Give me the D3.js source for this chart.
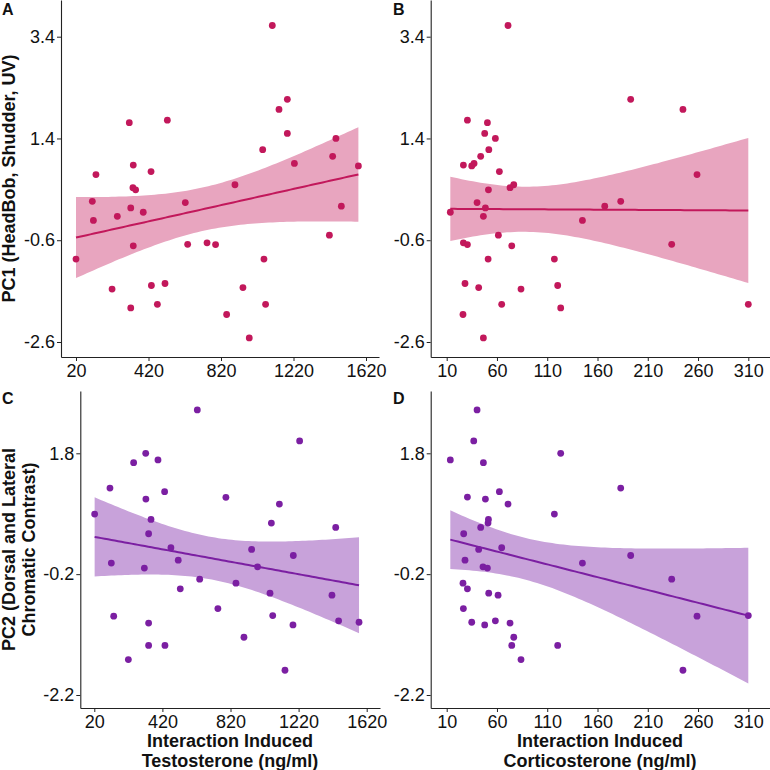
<!DOCTYPE html>
<html>
<head>
<meta charset="utf-8">
<script src="https://d3js.org/d3.v7.min.js"></script>
<style>
  body{margin:0;background:#fff;}
  text{font-family:"Liberation Sans",Arial,sans-serif;fill:#111;}
  .tick line, .domain{stroke:#222;}
</style>
</head>
<body>
<div class="container"></div>
<script>
// PC1 vs testosterone (panel A)
var testoA = [20,110,116,130,219,248,314,322,322,336,334,349,336,391,434,436,469,511,524,623,
              636,743,790,851,897,941,976,1050,1057,1066,1103,1140,1186,1186,1225,1418,1436,1454,1484,1578];
var pc1A = [-0.97,0.165,-0.21,0.69,-1.56,-0.13,1.71,0.034,-1.93,0.877,0.433,0.39,-0.71,-0.05,0.75,-1.49,-1.86,-1.45,1.76,0.14,
            -0.68,-0.65,-0.685,-2.06,0.49,-1.53,-2.52,1.18,-0.97,-1.86,3.62,1.97,2.17,1.50,0.91,-0.50,1.05,1.40,0.07,0.86];

// PC1 vs corticosterone (panel B)
var corticoB = [13.6,26.6,26.6,28.2,26.2,30.6,30.6,34.9,37.2,40.2,41.8,43.8,46.5,46.5,47.8,48.5,50.5,51.2,51.5,51.9,
                58.4,61.4,62.4,64.7,71.0,73.0,74.7,76.7,83.9,117.1,120.4,123.4,145,167.2,183.1,193,233.8,245,259,310];
var pc1B = [-0.05,0.877,-0.65,-1.45,-2.06,1.76,-0.685,0.86,0.91,0.14,-1.53,1.05,-2.52,-0.13,1.50,0.034,1.71,-0.97,0.39,1.18,
            1.40,-0.50,0.75,-1.86,3.62,0.433,-0.71,0.49,-1.56,-0.97,-1.49,-1.93,-0.21,0.07,0.165,2.17,-0.68,1.97,0.69,-1.86];

// PC2 vs testosterone (panel C)
var testoC = [22,112,120,134,220,251,314,322,323,339,339,339,353,394,433,435,470,513,525,625,
              639,746,793,852,899,944,979,1052,1060,1068,1107,1140,1187,1189,1226,1416,1438,1455,1575];
var pc2C = [0.795,1.225,-0.017,-0.895,-1.614,1.645,-0.10,1.80,1.043,-1.01,-1.38,0.469,0.706,1.69,1.165,-1.38,0.237,0.032,-0.443,2.518,
            -0.283,-0.769,1.071,-0.349,-1.244,0.209,-0.078,-0.515,0.645,-0.885,0.96,-1.79,-1.04,0.109,2.004,-0.548,0.573,-0.973,-0.996];

// PC2 vs corticosterone (panel D)
var corticoD = [13.6,26.9,28.2,26.2,26.6,30.6,30.6,34.9,36.9,40.2,41.8,43.8,46.1,46.5,47.8,48.5,50.5,51.1,51.5,51.8,
                58.4,61.1,62.4,64.7,71,73,74.7,76.7,83.9,117.1,120.4,123.4,145,183.1,193,233.8,245,259,310];
var pc2D = [1.69,0.469,0.032,-0.349,-0.769,1.076,-0.443,-0.996,2.004,2.518,0.209,0.573,-0.078,1.645,-1.04,1.043,-0.10,0.645,0.706,-0.515,
            -0.973,-0.548,1.165,0.237,0.96,-1.01,-1.38,-1.244,-1.614,0.795,-1.38,1.80,-0.017,1.225,0.109,-0.283,-1.79,-0.895,-0.885];

var testoTicks = [20,420,820,1220,1620];
var corticoTicks = [10,60,110,160,210,260,310];
var pc1Ticks = [-2.6,-0.6,1.4,3.4];
var pc2Ticks = [-2.2,-0.2,1.8];

var pink = {pt:"#C2185B", band:"#E8A5BF"};
var purple = {pt:"#7B1FA2", band:"#C8A2DA"};

var W = 770, H = 770;
var svg = d3.select(".container").append("svg").attr("width",W).attr("height",H);

// linear model with 95% confidence band, like geom_smooth(method = "lm")
function fitLm(xs, ys){
  var n = xs.length, mx = d3.mean(xs), my = d3.mean(ys);
  var sxx = d3.sum(xs, function(x){return (x-mx)*(x-mx);});
  var sxy = d3.sum(xs, function(x,i){return (x-mx)*(ys[i]-my);});
  var b = sxy/sxx, a = my - b*mx;
  var rss = d3.sum(xs, function(x,i){return Math.pow(ys[i]-a-b*x,2);});
  var s = Math.sqrt(rss/(n-2)), t = 2.025;
  var ext = d3.extent(xs);
  return d3.range(80).map(function(i){
    var x = ext[0] + (ext[1]-ext[0])*i/79;
    var f = a + b*x;
    var se = s*Math.sqrt(1/n + (x-mx)*(x-mx)/sxx);
    return {x:x, f:f, lo:f-t*se, hi:f+t*se};
  });
}

// build a scale from two known tick positions, then widen to the panel edges
function edgeScale(v0, p0, v1, p1, lo, hi){
  var s = d3.scaleLinear().domain([v0,v1]).range([p0,p1]);
  return d3.scaleLinear().domain([s.invert(lo), s.invert(hi)]).range([lo,hi]);
}

function panel(o){
  var x = edgeScale(o.xr[0], o.xr[1], o.xr[2], o.xr[3], o.left, o.right);
  var y = edgeScale(o.yr[0], o.yr[1], o.yr[2], o.yr[3], o.bottom, o.top);
  var g = svg.append("g");

  var fit = fitLm(o.xs, o.ys);
  g.append("path")
    .attr("d", d3.area().x(function(d){return x(d.x);}).y0(function(d){return y(d.lo);}).y1(function(d){return y(d.hi);})(fit))
    .attr("fill", o.col.band);
  g.append("path")
    .attr("d", d3.line().x(function(d){return x(d.x);}).y(function(d){return y(d.f);})(fit))
    .attr("fill","none").attr("stroke", o.col.pt).attr("stroke-width",2);

  g.selectAll(".pt").data(o.xs).enter().append("circle")
    .attr("cx", function(d){return x(d);})
    .attr("cy", function(d,i){return y(o.ys[i]);})
    .attr("r", 3.4)
    .attr("fill", o.col.pt);

  var ax = g.append("g").attr("transform","translate(0,"+o.bottom+")")
    .call(d3.axisBottom(x).tickValues(o.xt).tickSize(4).tickPadding(3).tickSizeOuter(0).tickFormat(function(d){return String(d);}));
  var ay = g.append("g").attr("transform","translate("+o.left+",0)")
    .call(d3.axisLeft(y).tickValues(o.yt).tickSize(4).tickPadding(2).tickSizeOuter(0).tickFormat(function(d){return String(d);}));
  [ax, ay].forEach(function(a){
    a.selectAll("text").style("font-size","18px").attr("fill","#111");
    a.select(".domain").attr("stroke-width",1.1);
  });

  g.append("text").attr("x", o.tag[0]).attr("y", o.tag[1])
    .style("font-size","16px").style("font-weight","bold").text(o.label);
}

panel({label:"A", tag:[2,15], xs:testoA, ys:pc1A, col:pink,
  left:61, right:379, top:0, bottom:357,
  xr:[20,76,1620,366], yr:[3.4,36.7,-2.6,342], xt:testoTicks, yt:pc1Ticks});
panel({label:"B", tag:[393,15], xs:corticoB, ys:pc1B, col:pink,
  left:430.7, right:770, top:0, bottom:357,
  xr:[10,446.7,310,748.3], yr:[3.4,36.7,-2.6,342], xt:corticoTicks, yt:pc1Ticks});
panel({label:"C", tag:[2,404], xs:testoC, ys:pc2C, col:purple,
  left:80.3, right:380, top:391, bottom:708,
  xr:[20,94.3,1620,366.7], yr:[1.8,453.3,-2.2,695], xt:testoTicks, yt:pc2Ticks});
panel({label:"D", tag:[393,404], xs:corticoD, ys:pc2D, col:purple,
  left:430.7, right:770, top:391, bottom:708,
  xr:[10,446.7,310,748.3], yr:[1.8,453.3,-2.2,695], xt:corticoTicks, yt:pc2Ticks});

// axis titles
function title(lines, cx, cy, rotate){
  var t = svg.append("text")
    .attr("transform","translate("+cx+","+cy+")"+(rotate?" rotate(-90)":""))
    .attr("text-anchor","middle").style("font-size","18px").style("font-weight","bold");
  lines.forEach(function(s,i){
    t.append("tspan").attr("x",0).attr("y", i*19.5).text(s);
  });
}
title(["PC1 (HeadBob, Shudder, UV)"], 15, 178.5, true);
title(["PC2 (Dorsal and Lateral", "Chromatic Contrast)"], 15, 549.5, true);
title(["Interaction Induced", "Testosterone (ng/ml)"], 230, 747, false);
title(["Interaction Induced", "Corticosterone (ng/ml)"], 600, 747, false);
</script>
</body>
</html>
